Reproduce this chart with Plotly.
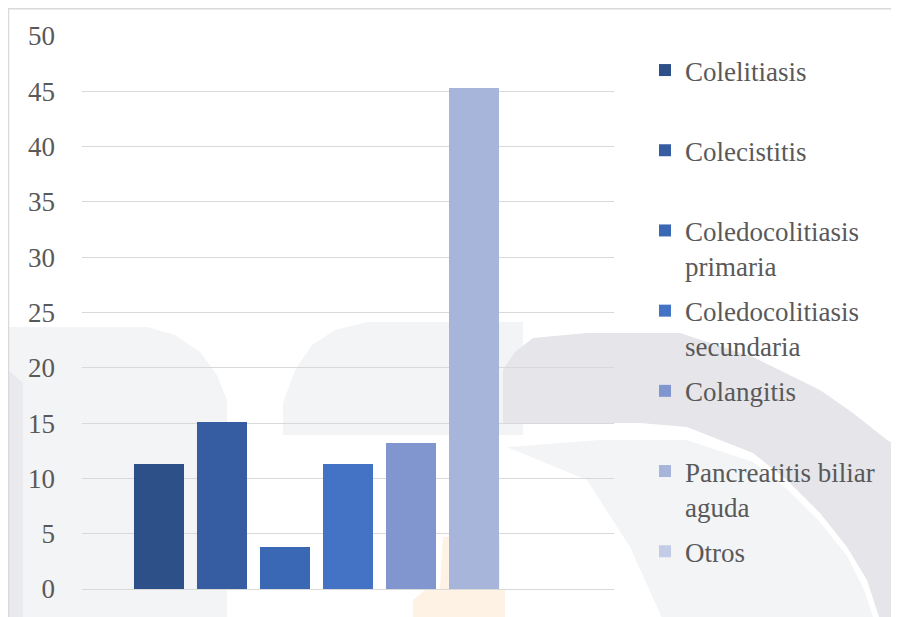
import plotly.graph_objects as go

categories = ["Colelitiasis", "Colecistitis", "Coledocolitiasis primaria",
              "Coledocolitiasis secundaria", "Colangitis",
              "Pancreatitis biliar aguda", "Otros"]
legend_labels = ["Colelitiasis<br> ", "Colecistitis<br> ", "Coledocolitiasis<br>primaria",
                 "Coledocolitiasis<br>secundaria", "Colangitis<br> ",
                 "Pancreatitis biliar<br>aguda", "Otros<br> "]
values = [11.3, 15.1, 3.8, 11.3, 13.2, 45.3, 0]
colors = ["#2E5089", "#365DA2", "#3B68B4", "#4472C4", "#8196CF", "#A7B5DB", "#C3CCE6"]
y_ticks = [0, 5, 10, 15, 20, 25, 30, 35, 40, 45, 50]

FONT = "Times New Roman, Liberation Serif, serif"
OFF = 8  # page body margin

fig = go.Figure()
for i, (cat, lab, v, c) in enumerate(zip(categories, legend_labels, values, colors)):
    fig.add_trace(go.Bar(
        x=[""], y=[v], name=lab, legendgroup=f"g{i}",
        marker=dict(color=c, line=dict(width=0)),
        hoverinfo="name+y",
    ))

W, H = 899 - OFF, 617 - OFF
SL, SR, ST, SB = 82, 614, 36, 589
L, R, T, B = SL - OFF, W - (SR - OFF), ST - OFF, H - (SB - OFF)
pw, ph = W - L - R, H - T - B

def px(x):
    return (x - OFF - L) / pw

def py(y):
    return (H - B - (y - OFF)) / ph

def path(pts, close=True):
    s = "M " + " L ".join(f"{px(x):.4f},{py(y):.4f}" for x, y in pts)
    return s + (" Z" if close else "")

LIGHT = "#F3F4F6"
DARK = "#E5E5EA"
wm = [
    (path([(8, 327), (147, 327), (175, 335), (200, 352), (217, 375), (227, 400),
           (227, 620), (8, 620)]), LIGHT),
    (path([(8, 370), (23, 383), (23, 620), (8, 620)]), "#EAEAEE"),
    (path([(283, 435), (283, 403), (295, 370), (312, 345), (335, 330), (367, 322),
           (523, 322), (523, 435)]), LIGHT),
    (path([(503, 423), (503, 370), (515, 352), (533, 338), (587, 333), (680, 333),
           (753, 357), (820, 390), (853, 413), (887, 440), (899, 447), (899, 620),
           (880, 620), (867, 580), (847, 547), (820, 513), (787, 480), (753, 453),
           (687, 427), (640, 423)]), DARK),
    (path([(507, 447), (600, 440), (687, 440), (753, 462), (787, 489), (820, 522),
           (847, 556), (865, 592), (874, 620), (663, 620), (630, 547), (587, 480)]), LIGHT),
    (path([(413, 620), (413, 600), (425, 590), (440, 590), (443, 537), (500, 537),
           (500, 590), (505, 590), (505, 620)]), "#FEF2E5"),
]

shapes = [dict(type="path", xref="paper", yref="paper", path=p, fillcolor=c,
               line=dict(width=0), layer="below") for p, c in wm]
shapes.append(dict(
    type="path", xref="paper", yref="paper",
    path=path([(8.5, 640), (8.5, 8.7), (920, 8.7)], close=False),
    line=dict(color="#D9D9D9", width=1.5), fillcolor="rgba(0,0,0,0)", layer="below",
))

fig.update_layout(
    width=W, height=H,
    margin=dict(l=L, r=R, t=T, b=B, pad=0),
    paper_bgcolor="white", plot_bgcolor="rgba(0,0,0,0)",
    barmode="group", bargap=0.171, bargroupgap=0.206,
    font=dict(family=FONT, size=27, color="#595959"),
    showlegend=True,
    legend=dict(
        x=px(645), xanchor="left", y=py(46), yanchor="top",
        valign="top", tracegroupgap=7, maxheight=700,
        font=dict(family=FONT, size=27, color="#595959"),
        bgcolor="rgba(0,0,0,0)", itemclick=False,
    ),
    xaxis=dict(showticklabels=False, showgrid=False, zeroline=False, showline=False),
    yaxis=dict(
        range=[0, 50], tickvals=y_ticks, showgrid=True, gridcolor="#D9D9D9",
        gridwidth=1.3, zeroline=True, zerolinecolor="#D9D9D9", zerolinewidth=1.3,
        showline=False, ticks="", ticklabelstandoff=26,
        tickfont=dict(family=FONT, size=27, color="#595959"),
    ),
    shapes=shapes,
)

fig.write_html("out.html")
